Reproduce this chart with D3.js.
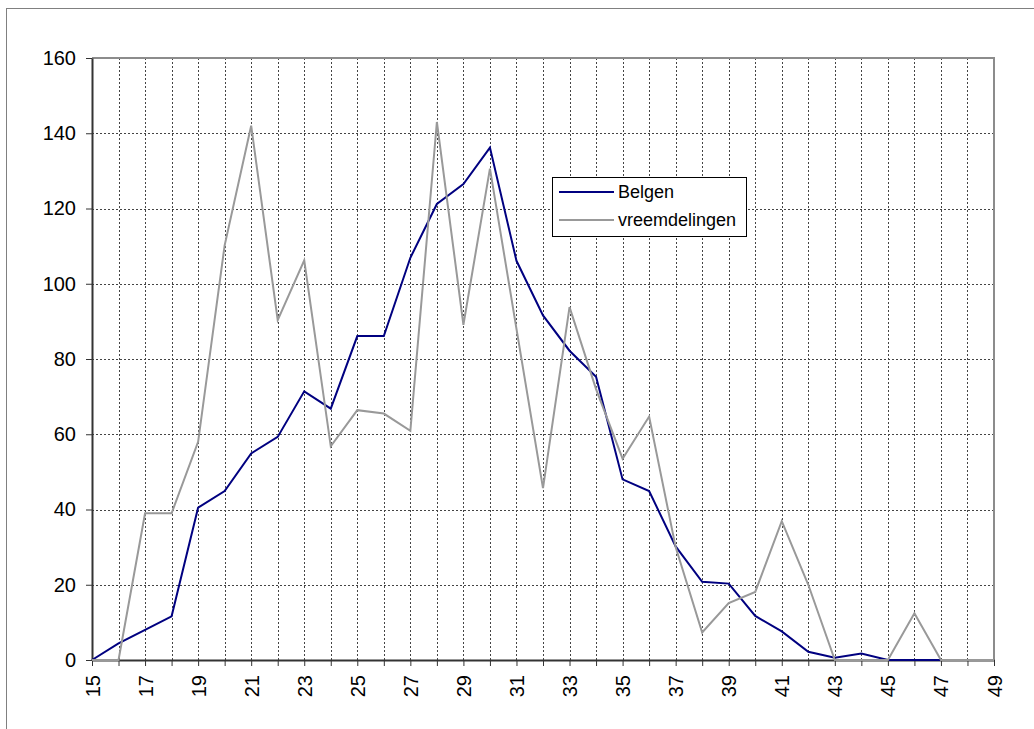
<!DOCTYPE html>
<html>
<head>
<meta charset="utf-8">
<script src="https://cdn.jsdelivr.net/npm/d3@7"></script>
<style>
  html, body { margin: 0; padding: 0; background: #fff; }
  svg { display: block; font-family: "Liberation Sans", Arial, sans-serif; }
</style>
</head>
<body>
<svg id="chart" width="1034" height="729"></svg>
<script>
const ages = [15,16,17,18,19,20,21,22,23,24,25,26,27,28,29,30,31,32,33,34,35,36,37,38,39,40,41,42,43,44,45,46,47,48,49];
const belgen = [0,4.4,8,11.6,40.5,44.9,54.9,59.3,71.4,66.8,86.1,86.1,106.9,121.2,126.5,136.2,106.1,91.6,82.2,75.3,48,44.9,30.2,20.8,20.3,11.7,7.6,2.2,0.6,1.7,0,0,0,0,0];
const vreemdelingen = [0,0,39,39,58,110.2,142,90.3,106.2,56.8,66.4,65.5,60.9,143,89.1,130.6,88,45.7,93.8,72,53.5,64.7,30,7.3,15.1,18.1,36.9,20,0,0,0,12.4,0,0,0];
const yTicks = [0,20,40,60,80,100,120,140,160];
const seriesNames = ["Belgen", "vreemdelingen"];
const seriesColors = ["#000080", "#999999"];

(function () {
const svg = d3.select("#chart");
const pL = 92, pR = 994, pT = 58, pB = 660;

const x = d3.scalePoint().domain(ages).range([pL, pR]);
const y = d3.scaleLinear().domain([0, 160]).range([pB, pT]);

// outer chart frame
svg.append("rect")
  .attr("x", 6.5).attr("y", 8.5)
  .attr("width", 1100).attr("height", 800)
  .attr("fill", "none").attr("stroke", "#808080").attr("stroke-width", 1);

// grid
const grid = svg.append("g");
grid.selectAll("line.h").data(yTicks.filter(d => d > 0 && d < 160)).join("line")
  .attr("x1", pL).attr("x2", pR)
  .attr("y1", d => Math.round(y(d)) + 0.5).attr("y2", d => Math.round(y(d)) + 0.5)
  .attr("stroke", "#444").attr("stroke-width", 1).attr("stroke-dasharray", "2,2");
grid.selectAll("line.v").data(ages.slice(1, -1)).join("line")
  .attr("x1", d => Math.round(x(d)) + 0.5).attr("x2", d => Math.round(x(d)) + 0.5)
  .attr("y1", pT).attr("y2", pB)
  .attr("stroke", "#444").attr("stroke-width", 1).attr("stroke-dasharray", "2,2");

// plot area border (top & right)
svg.append("path")
  .attr("d", `M${pL},${pT} H${pR} V${pB}`)
  .attr("fill", "none").attr("stroke", "#8c8c8c").attr("stroke-width", 2);

// axes
const yAxis = svg.append("g")
  .attr("transform", `translate(${pL},0)`)
  .call(d3.axisLeft(y).tickValues(yTicks).tickSize(6).tickSizeOuter(0).tickPadding(10).tickFormat(d3.format("d")));
yAxis.select(".domain").attr("stroke", "#333").attr("stroke-width", 2);
yAxis.selectAll(".tick line").attr("stroke", "#333").attr("stroke-width", 1);
yAxis.selectAll("text").attr("font-size", 20).attr("fill", "#000")
  .attr("font-family", "'Liberation Sans', Arial, sans-serif");

const xAxis = svg.append("g")
  .attr("transform", `translate(0,${pB})`)
  .call(d3.axisBottom(x).tickValues(ages).tickSize(6).tickSizeOuter(0)
    .tickFormat(d => (d % 2 === 1 ? String(d) : "")));
xAxis.select(".domain").attr("stroke", "#333").attr("stroke-width", 2);
xAxis.selectAll(".tick line").attr("stroke", "#333").attr("stroke-width", 1);
xAxis.selectAll("text")
  .attr("font-size", 20).attr("fill", "#000")
  .attr("font-family", "'Liberation Sans', Arial, sans-serif")
  .attr("transform", "rotate(-90)")
  .attr("text-anchor", "end")
  .attr("x", -15).attr("y", 0).attr("dy", "0.35em");

// series
const line = d3.line().x((d, i) => x(ages[i])).y(d => y(d));
[belgen, vreemdelingen].forEach((vals, k) => {
  svg.append("path")
    .datum(vals)
    .attr("d", line)
    .attr("fill", "none")
    .attr("stroke", seriesColors[k])
    .attr("stroke-width", 2)
    .attr("stroke-linejoin", "miter");
});

// legend
const lg = svg.append("g");
lg.append("rect")
  .attr("x", 552.5).attr("y", 177.5).attr("width", 194).attr("height", 59)
  .attr("fill", "#fff").attr("stroke", "#000").attr("stroke-width", 1);
seriesNames.forEach((name, i) => {
  const ly = 192 + i * 28;
  lg.append("line")
    .attr("x1", 559).attr("x2", 614).attr("y1", ly).attr("y2", ly)
    .attr("stroke", seriesColors[i]).attr("stroke-width", 2);
  lg.append("text")
    .attr("x", 618).attr("y", ly).attr("dy", "0.35em")
    .attr("font-size", 18).attr("fill", "#000")
    .text(name);
});
})();
</script>
</body>
</html>
